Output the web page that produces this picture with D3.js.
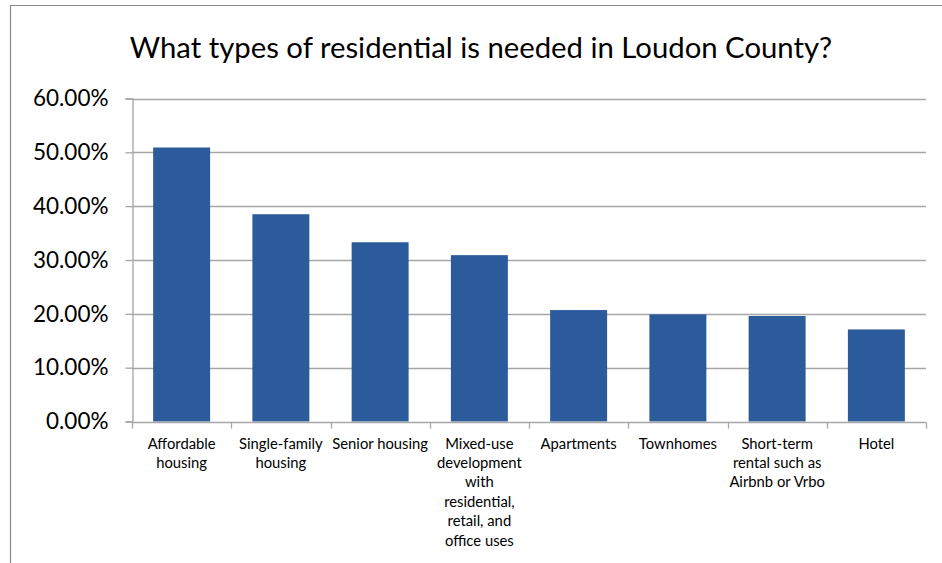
<!DOCTYPE html>
<html>
<head>
<meta charset="utf-8">
<script src="https://cdn.jsdelivr.net/npm/d3@7"></script>
<style>
  html, body { margin: 0; padding: 0; background: #fff; }
  svg { display: block; }
  text { font-family: Lato, "Open Sans", sans-serif; fill: #000; }
</style>
</head>
<body>
<svg id="chart" width="942" height="563"></svg>
<script>
// Survey responses: share of respondents selecting each residential type
const categories = [
  "Affordable\nhousing",
  "Single-family\nhousing",
  "Senior housing",
  "Mixed-use\ndevelopment\nwith\nresidential,\nretail, and\noffice uses",
  "Apartments",
  "Townhomes",
  "Short-term\nrental such as\nAirbnb or Vrbo",
  "Hotel"
];
const shares = [0.509, 0.385, 0.333, 0.309, 0.207, 0.199, 0.196, 0.171];
const yTicks = [0, 0.1, 0.2, 0.3, 0.4, 0.5, 0.6];
const title = "What types of residential is needed in Loudon County?";

const svg = d3.select("#chart");
const margin = { left: 132, right: 16, top: 98.5, bottom: 141.5 };
const W = 942, H = 563;
const x0 = margin.left, x1 = W - margin.right;
const y0 = H - margin.bottom, y1 = margin.top;

// outer frame of the chart area
svg.append("line").attr("x1", 10).attr("x2", W).attr("y1", 5.5).attr("y2", 5.5)
  .attr("stroke", "#8c8c8c").attr("stroke-width", 1.2);
svg.append("line").attr("x1", 10.5).attr("x2", 10.5).attr("y1", 5).attr("y2", H)
  .attr("stroke", "#8c8c8c").attr("stroke-width", 1.2);

const x = d3.scaleBand().domain(categories).range([x0, x1])
  .paddingInner(0.426).paddingOuter(0.213);
const y = d3.scaleLinear().domain([0, 0.6]).range([y0, y1]);

// horizontal gridlines
svg.append("g").selectAll("line").data(yTicks.filter(d => d > 0)).join("line")
  .attr("x1", x0).attr("x2", x1)
  .attr("y1", d => Math.round(y(d)) + 0.5).attr("y2", d => Math.round(y(d)) + 0.5)
  .attr("stroke", "#a6a6a6").attr("stroke-width", 1.3);

// bars
svg.append("g").selectAll("rect").data(shares).join("rect")
  .attr("x", (d, i) => x(categories[i]))
  .attr("width", x.bandwidth())
  .attr("y", d => y(d))
  .attr("height", d => y(0) - y(d))
  .attr("fill", "#2b5b9b");

// y axis
const yAxis = d3.axisLeft(y).tickValues(yTicks).tickSize(7).tickPadding(17)
  .tickFormat(d3.format(".2%"));
const gy = svg.append("g").attr("transform", `translate(${x0 + 0.5},0)`).call(yAxis);
gy.select(".domain").attr("stroke", "#a6a6a6").attr("stroke-width", 1.3);
gy.selectAll(".tick line").attr("stroke", "#a6a6a6").attr("stroke-width", 1.3);
gy.selectAll(".tick text").attr("font-size", 22.5).attr("fill", "#000")
  .style("font-family", "Lato, 'Open Sans', sans-serif");

// x axis with boundary ticks between categories
const step = x.step();
const gx = svg.append("g").attr("transform", `translate(0,${Math.round(y0) + 0.5})`);
gx.append("line").attr("x1", x0).attr("x2", x1).attr("stroke", "#a6a6a6").attr("stroke-width", 1.3);
gx.selectAll("line.bound").data(d3.range(categories.length + 1)).join("line")
  .attr("class", "bound")
  .attr("x1", i => Math.round(x0 + i * step) + 0.5).attr("x2", i => Math.round(x0 + i * step) + 0.5)
  .attr("y1", 0).attr("y2", 6)
  .attr("stroke", "#a6a6a6").attr("stroke-width", 1.3);

// category labels, wrapped onto lines
const labels = gx.selectAll("text.cat").data(categories).join("text")
  .attr("class", "cat")
  .attr("text-anchor", "middle")
  .attr("font-size", 14.8)
  .attr("transform", d => `translate(${x(d) + x.bandwidth() / 2},0)`);
labels.selectAll("tspan").data(d => d.split("\n")).join("tspan")
  .attr("x", 0)
  .attr("y", (d, i) => 26 + i * 19.4)
  .text(d => d);

// title
svg.append("text").attr("x", 481).attr("y", 58).attr("text-anchor", "middle")
  .attr("font-size", 29.3).text(title);
</script>
</body>
</html>
